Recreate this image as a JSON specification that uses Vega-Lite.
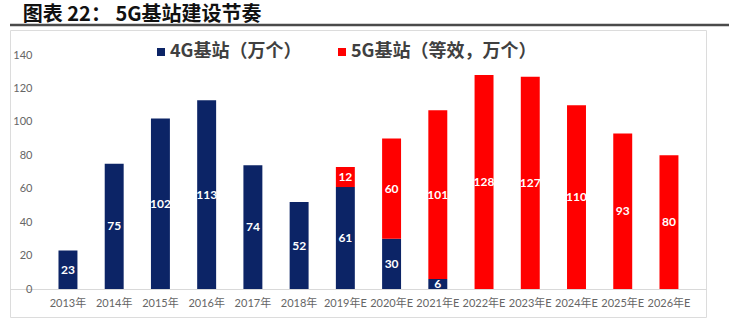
{
  "$schema": "https://vega.github.io/schema/vega-lite/v6.json",
  "padding": {"left": 8, "top": 4, "right": 0, "bottom": 0},
  "background": "white",
  "title": {"text": "图表 22： 5G基站建设节奏", "anchor": "start", "dx": 14, "fontSize": 20, "font": "Noto Sans CJK SC", "fontWeight": "bold", "color": "#111111", "offset": -1},
  "spacing": 2,
  "datasets": {
    "bars": [
      {"year": "2013年", "series": "4G基站（万个）", "value": 23},
      {"year": "2014年", "series": "4G基站（万个）", "value": 75},
      {"year": "2015年", "series": "4G基站（万个）", "value": 102},
      {"year": "2016年", "series": "4G基站（万个）", "value": 113},
      {"year": "2017年", "series": "4G基站（万个）", "value": 74},
      {"year": "2018年", "series": "4G基站（万个）", "value": 52},
      {"year": "2019年E", "series": "4G基站（万个）", "value": 61},
      {"year": "2019年E", "series": "5G基站（等效，万个）", "value": 12},
      {"year": "2020年E", "series": "4G基站（万个）", "value": 30},
      {"year": "2020年E", "series": "5G基站（等效，万个）", "value": 60},
      {"year": "2021年E", "series": "4G基站（万个）", "value": 6},
      {"year": "2021年E", "series": "5G基站（等效，万个）", "value": 101},
      {"year": "2022年E", "series": "5G基站（等效，万个）", "value": 128},
      {"year": "2023年E", "series": "5G基站（等效，万个）", "value": 127},
      {"year": "2024年E", "series": "5G基站（等效，万个）", "value": 110},
      {"year": "2025年E", "series": "5G基站（等效，万个）", "value": 93},
      {"year": "2026年E", "series": "5G基站（等效，万个）", "value": 80}
    ],
    "line": [{"name": "title rule"}]
  },
  "vconcat": [
    {
      "width": 719,
      "height": 2,
      "view": {"stroke": null},
      "data": {"name": "line"},
      "mark": {"type": "rule", "color": "#4a4a4a", "strokeWidth": 2.5},
      "encoding": {
        "y": {"datum": 0, "type": "quantitative", "scale": {"domain": [-1, 1]}, "axis": null}
      }
    },
    {
      "width": 696,
      "height": 287,
      "view": {"stroke": "#dcdcdc"},
      "data": {"name": "bars"},
      "transform": [
        {"stack": "value", "groupby": ["year"], "sort": [{"field": "series", "order": "ascending"}], "as": ["v0", "v1"]},
        {"calculate": "(datum.v0 + datum.v1) / 2", "as": "mid"}
      ],
      "encoding": {
        "x": {
          "field": "year", "type": "nominal", "sort": null,
          "scale": {"paddingInner": 0.59, "paddingOuter": 0.8225, "align": 0.6376},
          "axis": {"title": null, "labelAngle": 0, "ticks": false, "labelPadding": 8, "offset": -28,
                   "domainColor": "#d9d9d9", "labelColor": "#666666", "labelFontSize": 11,
                   "labelFont": "Lato, Noto Sans CJK SC"}
        }
      },
      "layer": [
        {
          "mark": {"type": "bar"},
          "encoding": {
            "y": {
              "field": "v0", "type": "quantitative",
              "scale": {"domain": [-16.75, 154.96], "nice": false, "zero": false},
              "axis": {"title": null, "values": [0, 20, 40, 60, 80, 100, 120, 140], "grid": false, "ticks": false,
                       "domain": false, "labelPadding": 0, "offset": -22, "labelColor": "#666666",
                       "labelFontSize": 11, "labelFont": "Lato"}
            },
            "y2": {"field": "v1"},
            "color": {
              "field": "series", "type": "nominal",
              "scale": {"domain": ["4G基站（万个）", "5G基站（等效，万个）"], "range": ["#0C2466", "#FF0000"]},
              "legend": {"title": null, "orient": "none", "legendX": 142, "legendY": 19, "direction": "horizontal",
                         "symbolType": "square", "symbolSize": 64, "symbolStrokeWidth": 0, "labelFontSize": 18,
                         "labelFont": "Noto Sans CJK SC", "labelFontWeight": "bold", "labelColor": "#404040",
                         "labelOffset": 0, "columnPadding": 31, "labelLimit": 400}
            }
          }
        },
        {
          "mark": {"type": "text", "color": "white", "fontWeight": "bold", "fontSize": 12, "font": "Lato", "baseline": "middle"},
          "encoding": {
            "y": {"field": "mid", "type": "quantitative"},
            "text": {"field": "value", "type": "quantitative"}
          }
        }
      ]
    }
  ]
}
